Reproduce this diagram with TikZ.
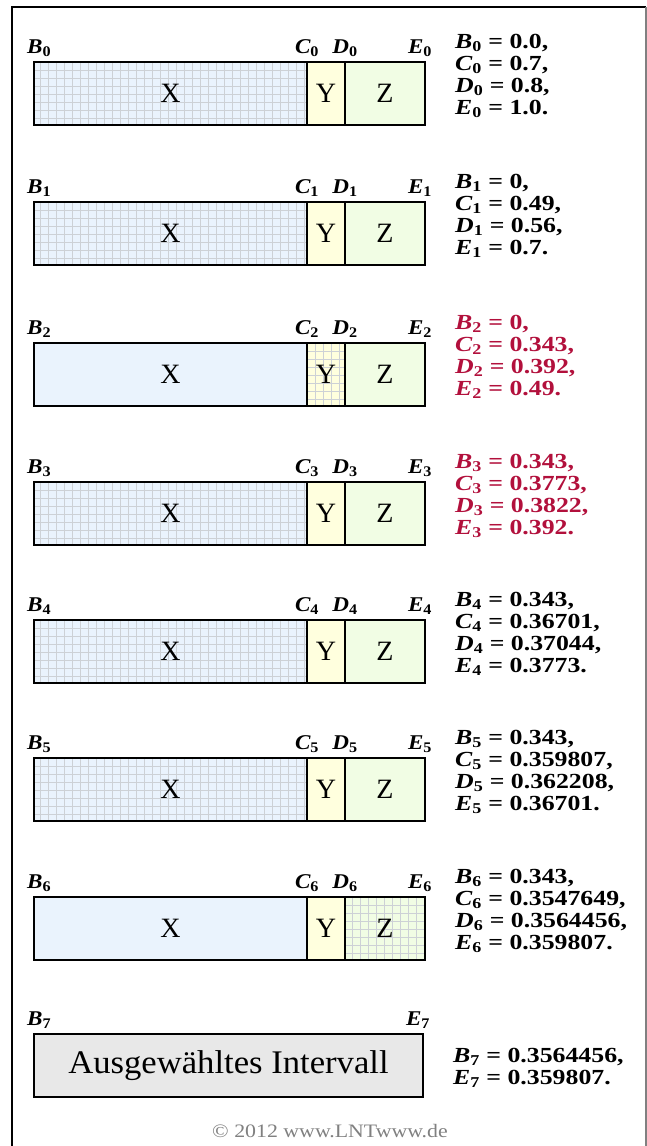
\documentclass[tikz,border=0pt]{standalone}
\usepackage{fontspec}
\setmainfont{Liberation Serif}
\usetikzlibrary{positioning}

\definecolor{xcol}{RGB}{234,243,253}
\definecolor{ycol}{RGB}{255,255,222}
\definecolor{zcol}{RGB}{241,253,228}
\definecolor{selcol}{RGB}{232,232,232}
\definecolor{gridcol}{RGB}{205,209,214}
\definecolor{redcol}{RGB}{178,16,60}

\newcommand{\lbl}[2]{{\itshape #1}\textsubscript{#2}}

\begin{document}
\begin{tikzpicture}[x=1pt, y=-1pt,
		part/.style={draw, line width=1pt, minimum height=62pt, inner sep=0pt,
				font=\fontsize{28}{28}\selectfont},
		xpart/.style={part, fill=xcol, minimum width=272pt},
		ypart/.style={part, fill=ycol, minimum width=37pt},
		zpart/.style={part, fill=zcol, minimum width=79pt},
		gridded/.style={path picture={\draw[gridcol, line width=0.8pt, step=8pt]
						(path picture bounding box.south west) grid (path picture bounding box.north east);}},
		barframe/.style={draw, line width=2.6pt},
		lab/.style={inner sep=0pt, font=\fontsize{21}{21}\selectfont\bfseries\addfontfeatures{FakeStretch=1.1}},
		vals/.style={inner sep=0pt, align=left, anchor=north west,
				font=\fontsize{21.5}{22}\selectfont\bfseries\addfontfeatures{FakeStretch=1.2}}]
		\useasboundingbox (0,0) rectangle (647,1146);

		% outer frame
		\draw[line width=2pt] (12,1146) -- (12,7) -- (646,7);
		\draw[gray, line width=1.2pt] (646,7) -- (646,1146);

		% step 0
		\node[xpart, gridded, anchor=north west] (X0) at (34,62) {X};
		\node[ypart, right=0pt of X0] (Y0) {Y};
		\node[zpart, right=0pt of Y0] (Z0) {Z};
		\draw[barframe] (X0.north west) rectangle (Z0.south east);
		\node[lab, above right=5pt and -7pt of X0.north west] (B0l) {\lbl{B}{0}};
		\node[lab, above=5pt of X0.north east] (C0l) {\lbl{C}{0}};
		\node[lab, above=5pt of Y0.north east] (D0l) {\lbl{D}{0}};
		\node[lab, above=5pt of Z0.north east, xshift=-5pt] (E0l) {\lbl{E}{0}};
		\node[vals] (v0) at ([shift={(30pt,28pt)}]Z0.north east)
		{\lbl{B}{0} = 0.0,\\ \lbl{C}{0} = 0.7,\\ \lbl{D}{0} = 0.8,\\ \lbl{E}{0} = 1.0.};

		% step 1
		\node[xpart, gridded, anchor=north west] (X1) at (34,202) {X};
		\node[ypart, right=0pt of X1] (Y1) {Y};
		\node[zpart, right=0pt of Y1] (Z1) {Z};
		\draw[barframe] (X1.north west) rectangle (Z1.south east);
		\node[lab, above right=5pt and -7pt of X1.north west] (B1l) {\lbl{B}{1}};
		\node[lab, above=5pt of X1.north east] (C1l) {\lbl{C}{1}};
		\node[lab, above=5pt of Y1.north east] (D1l) {\lbl{D}{1}};
		\node[lab, above=5pt of Z1.north east, xshift=-5pt] (E1l) {\lbl{E}{1}};
		\node[vals] (v1) at ([shift={(30pt,28pt)}]Z1.north east)
		{\lbl{B}{1} = 0,\\ \lbl{C}{1} = 0.49,\\ \lbl{D}{1} = 0.56,\\ \lbl{E}{1} = 0.7.};

		% step 2
		\node[xpart, anchor=north west] (X2) at (34,343) {X};
		\node[ypart, gridded, right=0pt of X2] (Y2) {Y};
		\node[zpart, right=0pt of Y2] (Z2) {Z};
		\draw[barframe] (X2.north west) rectangle (Z2.south east);
		\node[lab, above right=5pt and -7pt of X2.north west] (B2l) {\lbl{B}{2}};
		\node[lab, above=5pt of X2.north east] (C2l) {\lbl{C}{2}};
		\node[lab, above=5pt of Y2.north east] (D2l) {\lbl{D}{2}};
		\node[lab, above=5pt of Z2.north east, xshift=-5pt] (E2l) {\lbl{E}{2}};
		\node[vals, text=redcol] (v2) at ([shift={(30pt,28pt)}]Z2.north east)
		{\lbl{B}{2} = 0,\\ \lbl{C}{2} = 0.343,\\ \lbl{D}{2} = 0.392,\\ \lbl{E}{2} = 0.49.};

		% step 3
		\node[xpart, gridded, anchor=north west] (X3) at (34,482) {X};
		\node[ypart, right=0pt of X3] (Y3) {Y};
		\node[zpart, right=0pt of Y3] (Z3) {Z};
		\draw[barframe] (X3.north west) rectangle (Z3.south east);
		\node[lab, above right=5pt and -7pt of X3.north west] (B3l) {\lbl{B}{3}};
		\node[lab, above=5pt of X3.north east] (C3l) {\lbl{C}{3}};
		\node[lab, above=5pt of Y3.north east] (D3l) {\lbl{D}{3}};
		\node[lab, above=5pt of Z3.north east, xshift=-5pt] (E3l) {\lbl{E}{3}};
		\node[vals, text=redcol] (v3) at ([shift={(30pt,28pt)}]Z3.north east)
		{\lbl{B}{3} = 0.343,\\ \lbl{C}{3} = 0.3773,\\ \lbl{D}{3} = 0.3822,\\ \lbl{E}{3} = 0.392.};

		% step 4
		\node[xpart, gridded, anchor=north west] (X4) at (34,620) {X};
		\node[ypart, right=0pt of X4] (Y4) {Y};
		\node[zpart, right=0pt of Y4] (Z4) {Z};
		\draw[barframe] (X4.north west) rectangle (Z4.south east);
		\node[lab, above right=5pt and -7pt of X4.north west] (B4l) {\lbl{B}{4}};
		\node[lab, above=5pt of X4.north east] (C4l) {\lbl{C}{4}};
		\node[lab, above=5pt of Y4.north east] (D4l) {\lbl{D}{4}};
		\node[lab, above=5pt of Z4.north east, xshift=-5pt] (E4l) {\lbl{E}{4}};
		\node[vals] (v4) at ([shift={(30pt,28pt)}]Z4.north east)
		{\lbl{B}{4} = 0.343,\\ \lbl{C}{4} = 0.36701,\\ \lbl{D}{4} = 0.37044,\\ \lbl{E}{4} = 0.3773.};

		% step 5
		\node[xpart, gridded, anchor=north west] (X5) at (34,758) {X};
		\node[ypart, right=0pt of X5] (Y5) {Y};
		\node[zpart, right=0pt of Y5] (Z5) {Z};
		\draw[barframe] (X5.north west) rectangle (Z5.south east);
		\node[lab, above right=5pt and -7pt of X5.north west] (B5l) {\lbl{B}{5}};
		\node[lab, above=5pt of X5.north east] (C5l) {\lbl{C}{5}};
		\node[lab, above=5pt of Y5.north east] (D5l) {\lbl{D}{5}};
		\node[lab, above=5pt of Z5.north east, xshift=-5pt] (E5l) {\lbl{E}{5}};
		\node[vals] (v5) at ([shift={(30pt,28pt)}]Z5.north east)
		{\lbl{B}{5} = 0.343,\\ \lbl{C}{5} = 0.359807,\\ \lbl{D}{5} = 0.362208,\\ \lbl{E}{5} = 0.36701.};

		% step 6
		\node[xpart, anchor=north west] (X6) at (34,897) {X};
		\node[ypart, right=0pt of X6] (Y6) {Y};
		\node[zpart, gridded, right=0pt of Y6] (Z6) {Z};
		\draw[barframe] (X6.north west) rectangle (Z6.south east);
		\node[lab, above right=5pt and -7pt of X6.north west] (B6l) {\lbl{B}{6}};
		\node[lab, above=5pt of X6.north east] (C6l) {\lbl{C}{6}};
		\node[lab, above=5pt of Y6.north east] (D6l) {\lbl{D}{6}};
		\node[lab, above=5pt of Z6.north east, xshift=-5pt] (E6l) {\lbl{E}{6}};
		\node[vals] (v6) at ([shift={(30pt,28pt)}]Z6.north east)
		{\lbl{B}{6} = 0.343,\\ \lbl{C}{6} = 0.3547649,\\ \lbl{D}{6} = 0.3564456,\\ \lbl{E}{6} = 0.359807.};

		% step 7: the chosen interval
		\node[part, fill=selcol, minimum width=388pt, anchor=north west,
			font=\fontsize{33}{33}\selectfont\addfontfeatures{FakeStretch=1.05}] (S7) at (34,1034) {Ausgewähltes Intervall};
		\draw[barframe] (S7.north west) rectangle (S7.south east);
		\node[lab, above right=5pt and -7pt of S7.north west] (B7l) {\lbl{B}{7}};
		\node[lab, above=5pt of S7.north east, xshift=-5pt] (E7l) {\lbl{E}{7}};
		\node[vals] (v7) at ([shift={(30pt,-14pt)}]S7.north east)
		{\lbl{B}{7} = 0.3564456,\\ \lbl{E}{7} = 0.359807.};

		% copyright line at the bottom
		\node[text=gray, font=\fontsize{19}{19}\selectfont\addfontfeatures{FakeStretch=1.15}] (copy) at (330,1131)
		{\textcopyright{} 2012 www.LNTwww.de};

	\end{tikzpicture}
\end{document}
